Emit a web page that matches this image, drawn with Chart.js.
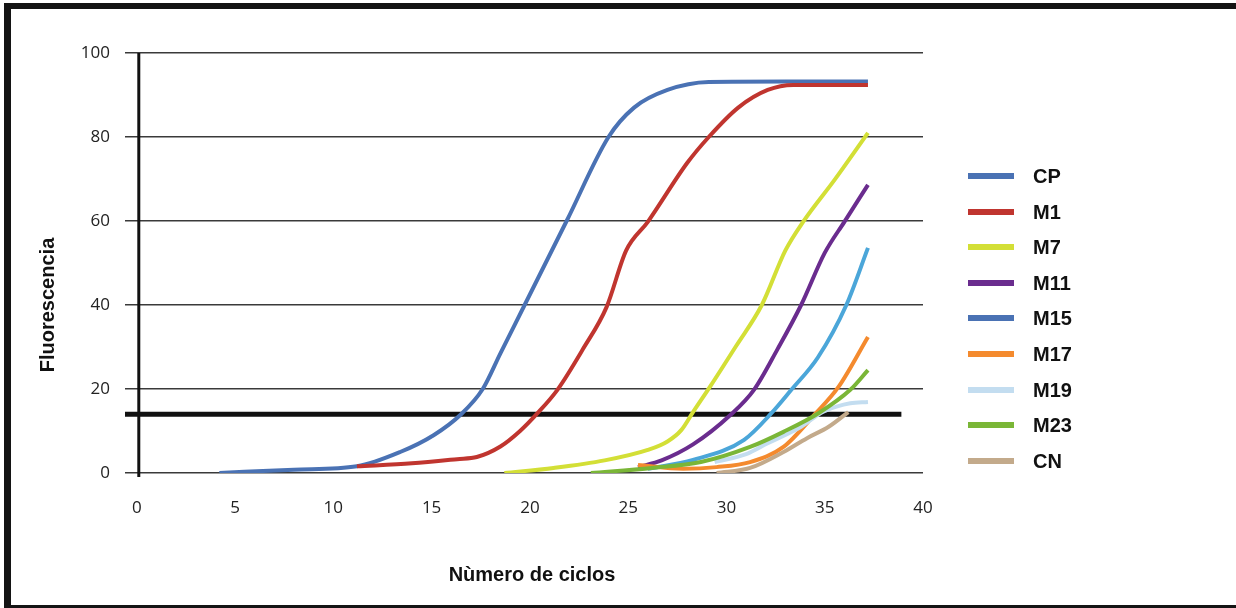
<!DOCTYPE html>
<html>
<head>
<meta charset="utf-8">
<script src="https://cdn.jsdelivr.net/npm/chart.js@4"></script>
<style>
  body { margin: 0; background: #fff; }
  #marco { position: absolute; left: 4px; top: 3px; width: 1300px; height: 596px;
           border-left: 7px solid #141414; border-top: 6px solid #141414; border-bottom: 3px solid #141414;
           pointer-events: none; }
  #leyenda { position: absolute; left: 0; top: 0; font-family: "Liberation Sans", Arial, sans-serif;
             font-weight: bold; font-size: 20px; color: #111; }
  .item { position: absolute; left: 968px; height: 24px; }
  .muestra { position: absolute; left: 0; top: 9px; width: 46px; height: 6px; }
  .texto { position: absolute; left: 65px; top: 0; line-height: 24px; white-space: nowrap; }
</style>
</head>
<body>
<canvas id="MiGrafica" width="1236" height="608" style="position:absolute;left:0;top:0"></canvas>
<div id="marco"></div>
<div id="leyenda"></div>
<script>
// datos
const muestras = ["CP", "M1", "M7", "M11", "M15", "M17", "M19", "M23", "CN"];
const colores = ["#4a72b4", "#c0352f", "#d3df36", "#6a2c8e", "#4ba6d9", "#f48a2e", "#c3ddf0", "#7ab637", "#c3aa8b"];
const coloresLeyenda = ["#4a72b4", "#c0352f", "#d3df36", "#6a2c8e", "#4a72b4", "#f48a2e", "#c3ddf0", "#7ab637", "#c3aa8b"];

const cpX = [4.2, 8, 11.2, 13.4, 15.1, 16.5, 17.6, 18.5, 19.7, 21.9, 24.0, 25.3, 27.0, 29.1, 33, 37.2];
const cpY = [0, 0.8, 1.6, 5, 9.0, 14, 20, 28.5, 39.7, 60.3, 80, 87, 91.2, 93.1, 93.2, 93.2];
const m1X = [11.2, 14, 16.3, 17.3, 18.5, 19.5, 20.4, 21.4, 22.7, 23.9, 24.9, 26.0, 28.0, 29.1, 30.6, 32.1, 33.4, 37.2];
const m1Y = [1.6, 2.3, 3.3, 3.8, 6.3, 10, 14.3, 19.8, 29.5, 39.5, 53, 59.8, 73.8, 80, 87, 91.2, 92.4, 92.4];
const m7X = [18.7, 21.2, 23.8, 26.0, 27.0, 27.7, 28.3, 29.2, 30.5, 31.8, 33.0, 33.9, 35.5, 37.2];
const m7Y = [0, 1.2, 3, 5.5, 7.5, 10.2, 14.5, 20.8, 30.3, 40, 53, 59.8, 69.8, 81];
const m11X = [25.5, 26.7, 28.3, 30.2, 31.4, 32.6, 33.8, 35.0, 36.0, 37.2];
const m11Y = [1.4, 3.0, 6.8, 13.8, 19.8, 29.5, 40, 52.4, 59.8, 68.6];
const m15X = [26.0, 28.3, 30.9, 32.3, 33.3, 34.65, 36.1, 37.2];
const m15Y = [1.0, 3.1, 7.9, 14.3, 19.8, 27.5, 40, 53.6];
const m17X = [25.5, 27.8, 29.5, 31.2, 32.9, 34.5, 35.7, 37.2];
const m17Y = [1.9, 1.0, 1.4, 2.6, 6.2, 14, 20.5, 32.4];
const m19X = [29.4, 31, 32.1, 33.8, 34.8, 35.6, 36.3, 37.2];
const m19Y = [2.6, 4.5, 7.1, 11, 14.3, 15.8, 16.6, 16.9];
const m23X = [23.1, 26.2, 28.7, 31.2, 32.9, 34.7, 36.3, 37.2];
const m23Y = [0, 1.2, 2.6, 6.2, 9.8, 14.3, 19.8, 24.5];
const cnX = [29.5, 31.2, 32.9, 34.1, 35.2, 36.2];
const cnY = [0, 1.2, 5, 8.3, 11, 14.5];

const ciclos = [cpX, m1X, m7X, m11X, m15X, m17X, m19X, m23X, cnX];
const fluor = [cpY, m1Y, m7Y, m11Y, m15Y, m17Y, m19Y, m23Y, cnY];

const umbralX = [-0.6, 38.9];
const umbralY = [14, 14];
const ticksX = [0, 5, 10, 15, 20, 25, 30, 35, 40];

function puntos(xs, ys) {
    return xs.map((x, i) => ({ x: x, y: ys[i] }));
}

let datasets = muestras.map((nombre, i) => ({
    label: nombre,
    data: puntos(ciclos[i], fluor[i]),
    borderColor: colores[i],
    borderWidth: 4,
    pointRadius: 0,
    cubicInterpolationMode: "monotone",
    order: muestras.length - i
}));

datasets.push({
    label: "umbral",
    data: puntos(umbralX, umbralY),
    borderColor: "#111",
    borderWidth: 5,
    pointRadius: 0,
    order: 20
});

const extras = {
    id: "extras",
    beforeDatasetsDraw(chart) {
        const { ctx, scales: { x, y } } = chart;
        const px = x.getPixelForValue(0) + 2;
        ctx.save();
        ctx.strokeStyle = "#111";
        ctx.lineWidth = 3;
        ctx.beginPath();
        ctx.moveTo(px, y.getPixelForValue(100));
        ctx.lineTo(px, y.getPixelForValue(0) + 4);
        ctx.stroke();
        ctx.restore();
    },
    afterDraw(chart) {
        const ctx = chart.ctx;
        ctx.save();
        ctx.fillStyle = "#111";
        ctx.font = "bold 20px 'Liberation Sans', Arial, sans-serif";
        ctx.textAlign = "center";
        ctx.textBaseline = "middle";
        ctx.fillText("Nùmero de ciclos", 532, 575);
        ctx.translate(48, 305);
        ctx.rotate(-Math.PI / 2);
        ctx.fillText("Fluorescencia", 0, 0);
        ctx.restore();
    }
};

let miCanvas = document.getElementById("MiGrafica").getContext("2d");
let chart = new Chart(miCanvas, {
    type: "line",
    data: { datasets: datasets },
    options: {
        responsive: false,
        animation: false,
        layout: { padding: { left: 15, top: 53, right: 313, bottom: 0 } },
        plugins: { legend: { display: false }, tooltip: { enabled: false } },
        scales: {
            x: {
                type: "linear",
                min: -0.6,
                max: 40,
                afterBuildTicks: (scale) => { scale.ticks = ticksX.map(v => ({ value: v })); },
                afterFit: (scale) => { scale.height = 135; },
                grid: { display: false, drawTicks: false },
                border: { display: false },
                ticks: { padding: 25, color: "#222", font: { family: "'Open Sans', sans-serif", size: 17 } }
            },
            y: {
                min: 0,
                max: 100,
                afterFit: (scale) => { scale.width = 110; },
                grid: { color: "#3a3a3a", lineWidth: 1.5, drawTicks: false },
                border: { display: false },
                ticks: { stepSize: 20, padding: 15, color: "#222", font: { family: "'Open Sans', sans-serif", size: 17 } }
            }
        }
    },
    plugins: [extras]
});

// leyenda a la derecha
let leyenda = document.getElementById("leyenda");
let cadena = "";
muestras.forEach((nombre, i) => {
    let top = 164 + i * 35.6;
    cadena += `<div class="item" style="top:${top}px">
        <div class="muestra" style="background:${coloresLeyenda[i]}"></div>
        <div class="texto">${nombre}</div>
    </div>`;
});
leyenda.innerHTML = cadena;
</script>
</body>
</html>
